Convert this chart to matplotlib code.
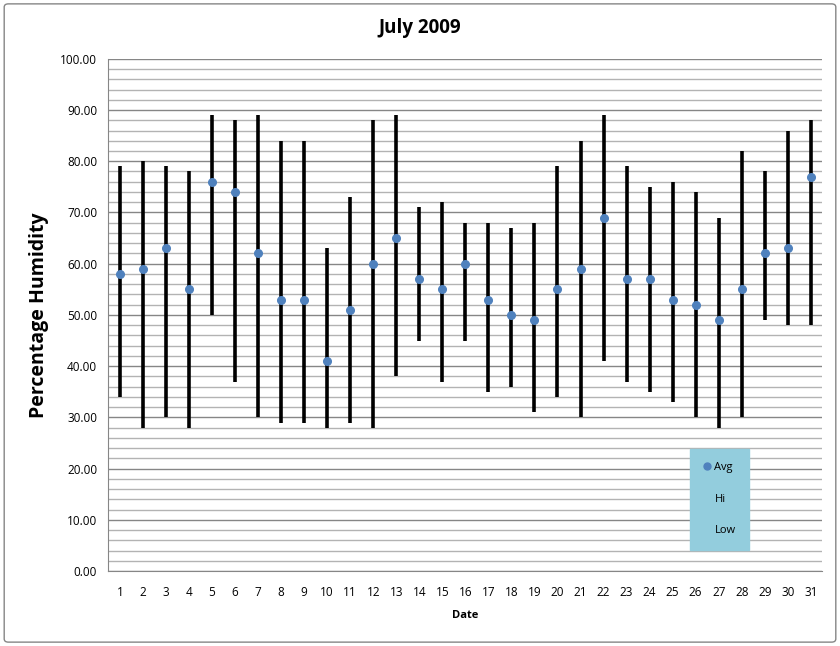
import numpy as np
import matplotlib.pyplot as plt
from matplotlib.lines import Line2D
from matplotlib.patches import FancyBboxPatch

days = list(range(1, 32))
hi = [79, 80, 79, 78, 89, 88, 89, 84, 84, 63, 73, 88, 89, 71, 72, 68,
      68, 67, 68, 79, 84, 89, 79, 75, 76, 74, 69, 82, 78, 86, 88]
low = [34, 28, 30, 28, 50, 37, 30, 29, 29, 28, 29, 28, 38, 45, 37, 45,
       35, 36, 31, 34, 30, 41, 37, 35, 33, 30, 28, 30, 49, 48, 48]
avg = [58, 59, 63, 55, 76, 74, 62, 53, 53, 41, 51, 60, 65, 57, 55, 60,
       53, 50, 49, 55, 59, 69, 57, 57, 53, 52, 49, 55, 62, 63, 77]

plt.rcParams['font.family'] = ['Open Sans', 'DejaVu Sans']

fig = plt.figure(figsize=(8.4, 6.46), dpi=100)
ax = fig.add_axes([0.129, 0.116, 0.85, 0.793])

# outer chart border
fig.patches.append(FancyBboxPatch((0.005, 0.006), 0.99, 0.988,
                                  boxstyle="round,pad=0,rounding_size=0.005",
                                  transform=fig.transFigure, fill=False,
                                  edgecolor="#868686", linewidth=1))

ax.set_ylim(0, 100)
ax.set_xlim(0.5, 31.5)
ax.set_yticks(np.arange(0, 101, 10))
ax.set_yticks(np.arange(0, 101, 2), minor=True)
ax.set_yticklabels(["%.2f" % v for v in np.arange(0, 101, 10)], fontsize=8.5)
ax.set_xticks(days)
ax.set_xticklabels([str(d) for d in days], fontsize=8.5)
ax.tick_params(axis="both", which="both", length=0)
ax.tick_params(axis="x", pad=11)
ax.tick_params(axis="y", pad=8)
ax.grid(axis="y", which="major", color="#868686", linewidth=1)
ax.grid(axis="y", which="minor", color="#b3b3b3", linewidth=1)
ax.set_axisbelow(True)
for s in ["top", "right"]:
    ax.spines[s].set_visible(False)
ax.spines["left"].set_color("#868686")
ax.spines["bottom"].set_color("#868686")

ax.vlines(days, low, hi, colors="black", linewidth=2.6)
ax.plot(days, avg, "o", color="#4f81bd", markersize=5.5, zorder=3)

fig.text(0.5, 1 - 28 / 646, "July 2009", fontsize=13.5, fontweight="bold",
         ha="center", va="center")
ax.set_ylabel("Percentage Humidity", fontsize=14, fontweight="bold", labelpad=8)
ax.set_xlabel("Date", fontsize=8, fontweight="bold", labelpad=8)

handles = [Line2D([], [], marker="o", linestyle="none", color="#4f81bd", markersize=5),
           Line2D([], [], linestyle="none"),
           Line2D([], [], linestyle="none")]
leg = fig.legend(handles, ["Avg", "Hi", "Low"], loc="upper left",
                 bbox_to_anchor=(690 / 840, 1 - 449 / 646), fontsize=8,
                 frameon=True, fancybox=False, handlelength=0.6,
                 handletextpad=0.4, labelspacing=1.85, borderpad=1.2,
                 borderaxespad=0)
leg.get_frame().set_facecolor("#93cddd")
leg.get_frame().set_edgecolor("#93cddd")
leg.get_frame().set_alpha(1)

fig.savefig("out.png", dpi=100)
